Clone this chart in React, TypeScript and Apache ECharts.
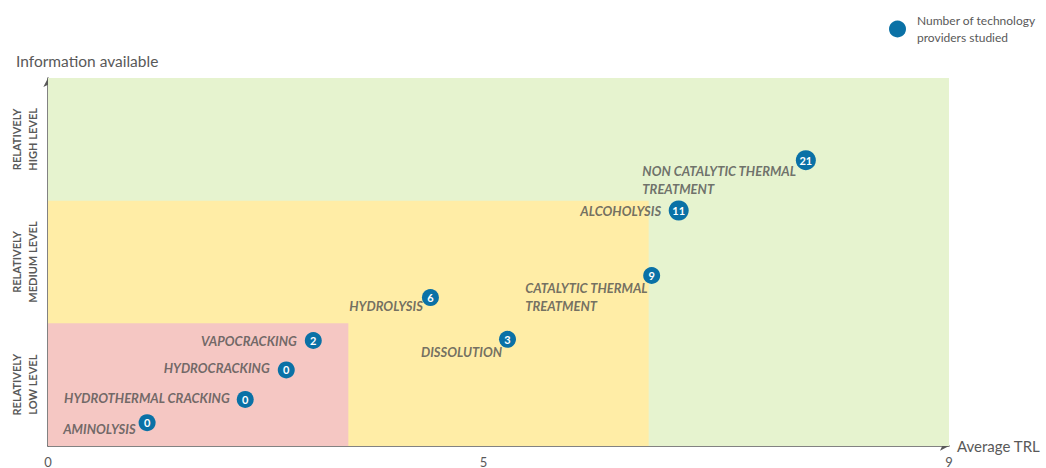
import React, { useEffect, useRef } from "react";
import * as echarts from "echarts";

const CATEGORIES = [
  "AMINOLYSIS",
  "HYDROTHERMAL CRACKING",
  "HYDROCRACKING",
  "VAPOCRACKING",
  "DISSOLUTION",
  "HYDROLYSIS",
  "CATALYTIC THERMAL\nTREATMENT",
  "ALCOHOLYSIS",
  "NON CATALYTIC THERMAL\nTREATMENT",
];
const TRL = [0.99, 1.97, 2.38, 2.65, 4.59, 3.82, 6.03, 6.3, 7.57];
const INFO = [0.19, 0.38, 0.62, 0.86, 0.87, 1.21, 1.39, 1.92, 2.33];
const PROVIDERS = [0, 0, 0, 2, 3, 6, 9, 11, 21];

const LEVEL_VALUES = [0.5, 1.5, 2.5];
const LEVEL_LABELS = ["RELATIVELY\nLOW LEVEL", "RELATIVELY\nMEDIUM LEVEL", "RELATIVELY\nHIGH LEVEL"];
const X_TICK_VALUES = [0, 4.35, 9];
const X_TICK_LABELS = ["0", "5", "9"];

const ZONE_TRL = [9, 6, 3];
const ZONE_INFO = [3, 2, 1];

const LEGEND_NAME = "Number of technology providers studied";

// label placement (offset from point centre), styles only
const LABEL_LAYOUT: Record<string, { dx: number; dy: number; align: string; va: string }> = {
  "AMINOLYSIS": { dx: -11, dy: 7, align: "right", va: "middle" },
  "HYDROTHERMAL CRACKING": { dx: -15, dy: -1, align: "right", va: "middle" },
  "HYDROCRACKING": { dx: -16, dy: -1, align: "right", va: "middle" },
  "VAPOCRACKING": { dx: -16, dy: 1, align: "right", va: "middle" },
  "DISSOLUTION": { dx: -5, dy: 13, align: "right", va: "middle" },
  "HYDROLYSIS": { dx: -7, dy: 9, align: "right", va: "middle" },
  "CATALYTIC THERMAL\nTREATMENT": { dx: -126, dy: 4, align: "left", va: "top" },
  "ALCOHOLYSIS": { dx: -17, dy: 1, align: "right", va: "middle" },
  "NON CATALYTIC THERMAL\nTREATMENT": { dx: -163, dy: 2, align: "left", va: "top" },
};

const ZONE_COLORS = ["#E6F3CF", "#FFEDA6", "#F5C7C3"];
const BLUE = "#0A71A6";
const GRAY = "#595959";
const LABEL_GRAY = "#4F4F4F";
const FONT = "Lato";

const findLabel = (vals: number[], labels: string[], v: number) => {
  const i = vals.findIndex((x) => Math.abs(x - v) < 1e-6);
  return i >= 0 ? labels[i] : "";
};

export default function App() {
  const ref = useRef<HTMLDivElement>(null);
  useEffect(() => {
    if (!ref.current) return;
    const chart = echarts.init(ref.current, null, { renderer: "svg" });
    chart.setOption({
      animation: false,
      textStyle: { fontFamily: FONT },
      legend: {
        data: [LEGEND_NAME],
        left: 884,
        top: 7,
        icon: "circle",
        itemWidth: 17,
        itemHeight: 17,
        formatter: () => "Number of technology\nproviders studied",
        textStyle: { color: GRAY, fontSize: 12, lineHeight: 17, fontFamily: FONT, padding: [0, 0, 0, 6] },
      },
      grid: { left: 48, right: 97, top: 78, bottom: 19 },
      xAxis: {
        type: "value",
        min: 0,
        max: 9,
        name: "Average TRL",
        nameLocation: "end",
        nameGap: 8,
        nameTextStyle: { color: GRAY, fontSize: 15, fontFamily: FONT },
        splitLine: { show: false },
        axisTick: { show: false },
        axisLine: { show: true, symbol: ["none", "arrow"], symbolSize: [7, 9], lineStyle: { color: GRAY, width: 1.5 } },
        axisLabel: {
          customValues: X_TICK_VALUES,
          formatter: (v: number) => findLabel(X_TICK_VALUES, X_TICK_LABELS, v),
          color: GRAY,
          fontSize: 13,
          margin: 9,
          fontFamily: FONT,
        },
      },
      yAxis: {
        type: "value",
        min: 0,
        max: 3,
        name: "Information available",
        nameLocation: "end",
        nameGap: 9,
        nameTextStyle: { color: GRAY, fontSize: 15.5, fontFamily: FONT, align: "left", padding: [0, 0, 0, -32] },
        splitLine: { show: false },
        axisTick: { show: false },
        axisLine: { show: true, symbol: ["none", "arrow"], symbolSize: [7, 9], lineStyle: { color: GRAY, width: 1.5 } },
        axisLabel: {
          customValues: LEVEL_VALUES,
          formatter: (v: number) => findLabel(LEVEL_VALUES, LEVEL_LABELS, v),
          rotate: 90,
          color: GRAY,
          fontSize: 11,
          fontWeight: "bold",
          lineHeight: 16,
          margin: 8,
          fontFamily: FONT,
        },
      },
      series: [
        {
          type: "scatter",
          name: "zones",
          data: [],
          silent: true,
          markArea: {
            silent: true,
            data: ZONE_TRL.map((t, i) => [
              { xAxis: 0, yAxis: 0, itemStyle: { color: ZONE_COLORS[i] } },
              { xAxis: t, yAxis: ZONE_INFO[i] },
            ]),
          },
        },
        {
          type: "scatter",
          name: "labels",
          silent: true,
          symbolSize: 1,
          itemStyle: { color: "rgba(0,0,0,0)" },
          data: CATEGORIES.map((c, i) => {
            const l = LABEL_LAYOUT[c];
            return {
              name: c,
              value: [TRL[i], INFO[i]],
              label: {
                show: true,
                position: [l.dx, l.dy],
                align: l.align,
                verticalAlign: l.va,
                formatter: c,
                color: LABEL_GRAY,
                fontSize: 13,
                lineHeight: 18,
                fontWeight: "bold",
                fontStyle: "italic",
                fontFamily: FONT,
              },
            };
          }),
          z: 3,
        },
        {
          type: "scatter",
          name: LEGEND_NAME,
          data: CATEGORIES.map((c, i) => ({ name: c, value: [TRL[i], INFO[i], PROVIDERS[i]] })),
          symbolSize: (v: number[]) => (v[2] >= 10 ? 20 : 17),
          itemStyle: { color: BLUE, opacity: 1 },
          label: {
            show: true,
            position: "inside",
            formatter: (p: any) => String(p.value[2]),
            color: "#fff",
            fontSize: 11,
            fontWeight: "bold",
            fontFamily: FONT,
          },
          z: 4,
        },
      ],
    });
    return () => chart.dispose();
  }, []);
  return <div ref={ref} style={{ position: "absolute", left: 0, top: 0, width: 1046, height: 468 }} />;
}
